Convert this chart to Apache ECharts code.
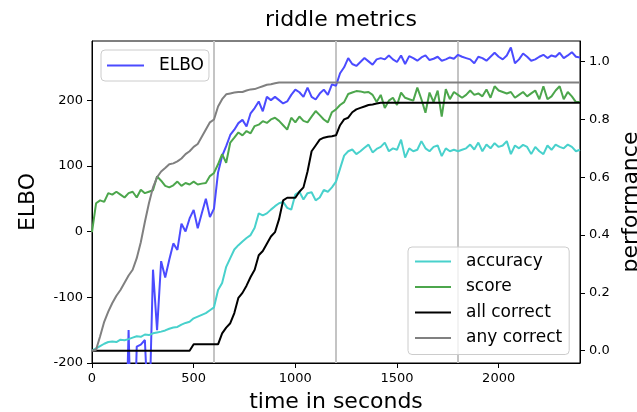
<!DOCTYPE html>
<html>
<head>
<meta charset="utf-8">
<title>riddle metrics</title>
<script src="https://cdn.jsdelivr.net/npm/echarts@6/dist/echarts.min.js"></script>
<style>
  html, body { margin: 0; padding: 0; background: #fff; }
  #chart { width: 637px; height: 412px; }
</style>
</head>
<body>
<div id="chart"></div>
<script>
// sample times (seconds)
const times = [
  0, 20, 40, 60, 80, 100, 120, 140, 160, 180,
  200, 220, 240, 260, 280, 300, 320, 340, 360, 380,
  400, 420, 440, 460, 480, 500, 520, 540, 560, 580,
  600, 620, 640, 660, 680, 700, 720, 740, 760, 780,
  800, 820, 840, 860, 880, 900, 920, 940, 960, 980,
  1000, 1020, 1040, 1060, 1080, 1100, 1120, 1140, 1160, 1180,
  1200, 1220, 1240, 1260, 1280, 1300, 1320, 1340, 1360, 1380,
  1400, 1420, 1440, 1460, 1480, 1500, 1520, 1540, 1560, 1580,
  1600, 1620, 1640, 1660, 1680, 1700, 1720, 1740, 1760, 1780,
  1800, 1820, 1840, 1860, 1880, 1900, 1920, 1940, 1960, 1980,
  2000, 2020, 2040, 2060, 2080, 2100, 2120, 2140, 2160, 2180,
  2200, 2220, 2240, 2260, 2280, 2300, 2320, 2340, 2360, 2380,
  2400
];

// left axis
const elbo = [
  -400, -400, -400, -400, -400, -400, -400, -400, -400, -150,
  -400, -175, -172, -165, -300, -58, -150, -45, -70, -43,
  -18, -28, 12, 0, 20, 33, 5, 28, 50, 22,
  35, 90, 115, 130, 147, 155, 165, 170, 160, 180,
  188, 198, 183, 205, 200, 205, 200, 195, 198, 208,
  216, 212, 205, 219, 205, 201, 210, 216, 208, 224,
  222, 241, 250, 264, 255, 252, 258, 264, 259, 254,
  262, 264, 262, 268, 262, 258, 268, 255, 267, 264,
  260, 265, 268, 261, 263, 266, 260, 262, 265, 263,
  269, 266, 264, 262, 256, 266, 264, 260, 266, 272,
  266, 262, 268, 280, 256, 262, 271, 266, 260, 262,
  266, 269, 264, 268, 266, 272, 264, 268, 273, 266,
  265
];

// right axis
const accuracy = [
  0.0, 0.008, 0.016, 0.024, 0.03, 0.032, 0.03, 0.038, 0.036, 0.04,
  0.045, 0.05, 0.048, 0.056, 0.054, 0.06, 0.063, 0.066, 0.07, 0.076,
  0.08, 0.082, 0.09, 0.096, 0.1, 0.112, 0.118, 0.124, 0.13, 0.14,
  0.15, 0.21, 0.234, 0.29, 0.32, 0.35, 0.365, 0.378, 0.39, 0.40,
  0.425, 0.475, 0.468, 0.475, 0.488, 0.5, 0.51, 0.515, 0.494, 0.488,
  0.54, 0.55, 0.523, 0.545, 0.548, 0.52, 0.53, 0.556, 0.55, 0.565,
  0.585, 0.63, 0.675, 0.69, 0.696, 0.68, 0.69, 0.702, 0.713, 0.686,
  0.698, 0.705, 0.72, 0.69, 0.7, 0.695, 0.73, 0.668, 0.7, 0.69,
  0.695, 0.725, 0.7, 0.69, 0.705, 0.71, 0.673, 0.7, 0.69, 0.695,
  0.69, 0.695, 0.7, 0.713, 0.696, 0.72, 0.69, 0.713, 0.7, 0.718,
  0.705, 0.71, 0.725, 0.68, 0.71, 0.7, 0.712, 0.705, 0.68, 0.705,
  0.69, 0.68, 0.71, 0.695, 0.713, 0.705, 0.7, 0.713, 0.705, 0.69,
  0.695
];

const score = [
  0.41, 0.51, 0.52, 0.515, 0.545, 0.54, 0.55, 0.54, 0.53, 0.545,
  0.55, 0.53, 0.557, 0.545, 0.55, 0.555, 0.603, 0.588, 0.57, 0.565,
  0.572, 0.585, 0.57, 0.58, 0.575, 0.585, 0.575, 0.578, 0.58, 0.604,
  0.615, 0.645, 0.68, 0.65, 0.72, 0.737, 0.755, 0.745, 0.76, 0.752,
  0.777, 0.782, 0.794, 0.788, 0.8, 0.806, 0.795, 0.78, 0.765, 0.806,
  0.79, 0.81, 0.795, 0.79, 0.81, 0.829, 0.815, 0.8, 0.79, 0.825,
  0.835, 0.85, 0.86, 0.888, 0.893, 0.898, 0.897, 0.893, 0.895, 0.885,
  0.86, 0.885, 0.84, 0.865, 0.875, 0.85, 0.893, 0.875, 0.87, 0.865,
  0.91, 0.87, 0.823, 0.893, 0.86, 0.9, 0.81, 0.905, 0.87, 0.895,
  0.885, 0.875, 0.885, 0.9, 0.885, 0.89, 0.88, 0.904, 0.875, 0.915,
  0.9, 0.895, 0.89, 0.895, 0.875, 0.885, 0.895, 0.88, 0.89, 0.9,
  0.87, 0.915, 0.87, 0.88, 0.9, 0.915, 0.87, 0.895, 0.88, 0.86,
  0.86
];

const allCorrect = [
  0, 0, 0, 0, 0, 0, 0, 0, 0, 0,
  0, 0, 0, 0, 0, 0, 0, 0, 0, 0,
  0, 0, 0, 0, 0, 0.022, 0.022, 0.022, 0.022, 0.022,
  0.022, 0.022, 0.06, 0.08, 0.095, 0.13, 0.183, 0.2, 0.225, 0.255,
  0.28, 0.33, 0.345, 0.37, 0.395, 0.41, 0.455, 0.52, 0.529, 0.529,
  0.529, 0.55, 0.565, 0.62, 0.69, 0.71, 0.73, 0.737, 0.74, 0.742,
  0.745, 0.78, 0.8, 0.806, 0.825, 0.835, 0.84, 0.845, 0.85, 0.852,
  0.855, 0.858, 0.858, 0.858, 0.858, 0.858, 0.858, 0.858, 0.858, 0.858,
  0.858, 0.858, 0.858, 0.858, 0.858, 0.858, 0.858, 0.858, 0.858, 0.858,
  0.858, 0.858, 0.858, 0.858, 0.858, 0.858, 0.858, 0.858, 0.858, 0.858,
  0.858, 0.858, 0.858, 0.858, 0.858, 0.858, 0.858, 0.858, 0.858, 0.858,
  0.858, 0.858, 0.858, 0.858, 0.858, 0.858, 0.858, 0.858, 0.858, 0.858,
  0.858
];

const anyCorrect = [
  0.0, 0.003, 0.05, 0.1, 0.135, 0.165, 0.19, 0.21, 0.235, 0.26,
  0.28, 0.32, 0.375, 0.445, 0.51, 0.565, 0.6, 0.62, 0.632, 0.645,
  0.648, 0.655, 0.665, 0.68, 0.69, 0.705, 0.715, 0.74, 0.765, 0.79,
  0.8, 0.845, 0.87, 0.887, 0.89, 0.893, 0.895, 0.895, 0.9, 0.904,
  0.905, 0.91, 0.915, 0.92, 0.922, 0.925, 0.928, 0.928, 0.928, 0.928,
  0.928, 0.928, 0.928, 0.928, 0.928, 0.928, 0.928, 0.928, 0.928, 0.928,
  0.928, 0.928, 0.928, 0.928, 0.928, 0.928, 0.928, 0.928, 0.928, 0.928,
  0.928, 0.928, 0.928, 0.928, 0.928, 0.928, 0.928, 0.928, 0.928, 0.928,
  0.928, 0.928, 0.928, 0.928, 0.928, 0.928, 0.928, 0.928, 0.928, 0.928,
  0.928, 0.928, 0.928, 0.928, 0.928, 0.928, 0.928, 0.928, 0.928, 0.928,
  0.928, 0.928, 0.928, 0.928, 0.928, 0.928, 0.928, 0.928, 0.928, 0.928,
  0.928, 0.928, 0.928, 0.928, 0.928, 0.928, 0.928, 0.928, 0.928, 0.928,
  0.928
];

const xTicks = [0, 500, 1000, 1500, 2000];
const elboTicks = [-200, -100, 0, 100, 200];
const perfTicks = [0, 0.2, 0.4, 0.6, 0.8, 1.0];
const markers = [600, 1200, 1800];

const FONT = "DejaVu Sans";

function pairs(ys) {
  return times.map((t, i) => [t, ys[i]]);
}

function lineSeries(name, ys, color, yAxisIndex) {
  return {
    name: name,
    type: "line",
    yAxisIndex: yAxisIndex,
    data: pairs(ys),
    symbol: "none",
    color: color,
    lineStyle: { color: color, width: 2 },
    emphasis: { disabled: true },
    animation: false,
  };
}

const tickStyle = { color: "#000", width: 1 };
const legendText = { fontSize: 17, color: "#000", fontFamily: FONT, padding: [0, 0, 0, 10] };

let myChart = echarts.init(document.getElementById("chart"));
let option = {
  animation: false,
  title: {
    text: "riddle metrics",
    left: 336,
    top: 4,
    textAlign: "center",
    textStyle: { fontSize: 22, fontWeight: "normal", color: "#000", fontFamily: FONT },
  },
  grid: {
    left: 92,
    right: 57,
    top: 41,
    bottom: 49,
    containLabel: false,
    outerBoundsMode: "none",
    show: true,
    borderColor: "#000",
    borderWidth: 1,
  },
  legend: [
    {
      data: ["ELBO"],
      left: 101,
      top: 50,
      padding: [7, 5, 7, 6],
      icon: "rect",
      itemWidth: 37,
      itemHeight: 2,
      borderColor: "#cccccc",
      borderWidth: 1,
      borderRadius: 4,
      backgroundColor: "rgba(255,255,255,0.8)",
      textStyle: legendText,
    },
    {
      data: ["accuracy", "score", "all correct", "any correct"],
      orient: "vertical",
      left: 408,
      top: 247,
      padding: [6, 7, 8, 7],
      itemGap: 8.5,
      icon: "rect",
      itemWidth: 36,
      itemHeight: 2,
      borderColor: "#cccccc",
      borderWidth: 1,
      borderRadius: 4,
      backgroundColor: "rgba(255,255,255,0.8)",
      textStyle: legendText,
    },
  ],
  xAxis: {
    type: "value",
    min: 0,
    max: 2400,
    name: "time in seconds",
    nameLocation: "middle",
    nameGap: 28,
    nameTextStyle: { fontSize: 22, color: "#000", fontFamily: FONT },
    axisLine: { show: true, onZero: false, lineStyle: tickStyle },
    axisTick: { show: true, inside: false, length: 5, lineStyle: tickStyle, customValues: xTicks },
    axisLabel: {
      color: "#000",
      fontSize: 13,
      fontFamily: FONT,
      margin: 9,
      customValues: xTicks,
      formatter: (v) => String(v),
    },
    splitLine: { show: false },
  },
  yAxis: [
    {
      type: "value",
      position: "left",
      min: -200,
      max: 290,
      name: "ELBO",
      nameLocation: "middle",
      nameRotate: 90,
      nameGap: 53,
      nameTextStyle: { fontSize: 22, color: "#000", fontFamily: FONT },
      axisLine: { show: true, onZero: false, lineStyle: tickStyle },
      axisTick: { show: true, inside: false, length: 5, lineStyle: tickStyle, customValues: elboTicks },
      axisLabel: {
        color: "#000",
        fontSize: 13,
        fontFamily: FONT,
        margin: 9,
        customValues: elboTicks,
        formatter: (v) => String(v),
      },
      splitLine: { show: false },
    },
    {
      type: "value",
      position: "right",
      min: -0.0426,
      max: 1.0714,
      name: "performance",
      nameLocation: "middle",
      nameRotate: 90,
      nameGap: 37,
      nameTextStyle: { fontSize: 22, color: "#000", fontFamily: FONT },
      axisLine: { show: true, onZero: false, lineStyle: tickStyle },
      axisTick: { show: true, inside: false, length: 5, lineStyle: tickStyle, customValues: perfTicks },
      axisLabel: {
        color: "#000",
        fontSize: 13,
        fontFamily: FONT,
        margin: 9,
        customValues: perfTicks,
        formatter: (v) => v.toFixed(1),
      },
      splitLine: { show: false },
    },
  ],
  series: [
    {
      name: "markers",
      type: "line",
      data: [],
      markLine: {
        silent: true,
        z: 1,
        symbol: ["none", "none"],
        label: { show: false },
        lineStyle: { color: "#c4c4c4", width: 2, type: "solid" },
        data: markers.map((v) => ({ xAxis: v })),
      },
    },
    lineSeries("ELBO", elbo, "#4b4bff", 0),
    lineSeries("accuracy", accuracy, "#48d1cc", 1),
    lineSeries("score", score, "#4ca64c", 1),
    lineSeries("all correct", allCorrect, "#000000", 1),
    lineSeries("any correct", anyCorrect, "#808080", 1),
  ],
};
myChart.setOption(option);
</script>
</body>
</html>
